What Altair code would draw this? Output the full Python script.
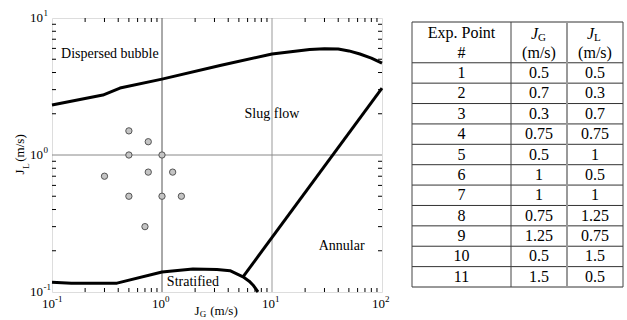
import altair as alt
import pandas as pd

# ---------------- data ----------------
exp_id = [1, 2, 3, 4, 5, 6, 7, 8, 9, 10, 11]
jg = [0.5, 0.7, 0.3, 0.75, 0.5, 1, 1, 0.75, 1.25, 0.5, 1.5]
jl = [0.5, 0.3, 0.7, 0.75, 1, 0.5, 1, 1.25, 0.75, 1.5, 0.5]

bubble_x = [0.1, 0.29, 0.415, 1.0, 3.37, 10, 22, 30, 40, 50, 63, 80, 100]
bubble_y = [2.32, 2.74, 3.08, 3.58, 4.5, 5.46, 5.9, 5.97, 5.94, 5.75, 5.46, 5.1, 4.69]

strat_x = [0.1, 0.15, 0.39, 1.0, 1.91, 3.16, 4.15, 5.45, 6.2, 6.71, 7.46]
strat_y = [0.118, 0.116, 0.116, 0.140, 0.147, 0.146, 0.143, 0.129, 0.12, 0.1125, 0.1]

annular_x = [5.45, 100]
annular_y = [0.129, 3.08]

region_left_text = ["Dispersed bubble"]
region_left_x = [0.121]
region_left_y = [5.46]
region_text = ["Slug flow", "Annular", "Stratified"]
region_x = [10, 43, 1.91]
region_y = [2.0, 0.217, 0.118]

x_major = [0.1, 1, 10, 100]
x_exp = ["-1", "0", "1", "2"]
y_major = [0.1, 1, 10]
y_exp = ["-1", "0", "1"]
x_minor = [m * 10.0 ** e for e in (-1, 0, 1) for m in range(2, 10)]
y_minor = [m * 10.0 ** e for e in (-1, 0) for m in range(2, 10)]

# table layout (column edges in table units, rows in row units)
col_edges = [0, 99, 155, 211]
row_edges = [0, 2, 3, 4, 5, 6, 7, 8, 9, 10, 11, 12, 13]

FONT = "Liberation Serif"
W, H = 330, 274

xs = alt.Scale(type="log", domain=[0.1, 100])
ys = alt.Scale(type="log", domain=[0.1, 10])

X = lambda f: alt.X(f, scale=xs, axis=None)
Y = lambda f: alt.Y(f, scale=ys, axis=None)

# ---------------- plot layers ----------------
gx1 = alt.Chart(pd.DataFrame({"x": [1]})).mark_rule(color="#555", strokeWidth=1).encode(x=X("x:Q"))
gx10 = alt.Chart(pd.DataFrame({"x": [10]})).mark_rule(color="#999", strokeWidth=1).encode(x=X("x:Q"))
gy1 = alt.Chart(pd.DataFrame({"y": [1]})).mark_rule(color="#888", strokeWidth=1).encode(y=Y("y:Q"))

xm = pd.DataFrame({"x": x_minor})
ym = pd.DataFrame({"y": y_minor})
tick_kw = dict(color="black", strokeWidth=1)
t_bot = alt.Chart(xm).mark_rule(**tick_kw).encode(x=X("x:Q"), y=alt.value(H), y2=alt.value(H - 4))
t_top = alt.Chart(xm).mark_rule(**tick_kw).encode(x=X("x:Q"), y=alt.value(0), y2=alt.value(4))
t_left = alt.Chart(ym).mark_rule(**tick_kw).encode(y=Y("y:Q"), x=alt.value(0), x2=alt.value(4))
t_right = alt.Chart(ym).mark_rule(**tick_kw).encode(y=Y("y:Q"), x=alt.value(W), x2=alt.value(W - 4))

# tick labels: "10" with a superscript exponent
xl_df = pd.DataFrame({"x": x_major, "e": x_exp})
yl_df = pd.DataFrame({"y": y_major, "e": y_exp})
xl_base = alt.Chart(xl_df).mark_text(
    text="10", font=FONT, fontSize=13, align="right", baseline="middle", dx=3, color="black"
).encode(x=X("x:Q"), y=alt.value(H + 12))
xl_exp = alt.Chart(xl_df).mark_text(
    font=FONT, fontSize=9, align="left", baseline="middle", dx=3, dy=-5, color="black"
).encode(x=X("x:Q"), y=alt.value(H + 12), text="e:N")
yl_base = alt.Chart(yl_df).mark_text(
    text="10", font=FONT, fontSize=13, align="right", baseline="middle", color="black"
).encode(y=Y("y:Q"), x=alt.value(-9))
yl_exp = alt.Chart(yl_df).mark_text(
    font=FONT, fontSize=9, align="left", baseline="middle", dy=-5, color="black"
).encode(y=Y("y:Q"), x=alt.value(-8.5), text="e:N")

lines_df = pd.concat([
    pd.DataFrame({"series": "bubble", "i": range(len(bubble_x)), "x": bubble_x, "y": bubble_y}),
    pd.DataFrame({"series": "stratified", "i": range(len(strat_x)), "x": strat_x, "y": strat_y}),
    pd.DataFrame({"series": "annular", "i": range(len(annular_x)), "x": annular_x, "y": annular_y}),
])
lines = alt.Chart(lines_df).mark_line(color="black", strokeWidth=3, strokeJoin="round").encode(
    x=X("x:Q"), y=Y("y:Q"), detail="series:N", order="i:Q",
)

pts = alt.Chart(pd.DataFrame({"id": exp_id, "jg": jg, "jl": jl})).mark_point(
    filled=True, shape="circle", size=40, fill="#c4c4c4", stroke="#555", strokeWidth=1, opacity=1
).encode(x=X("jg:Q"), y=Y("jl:Q"))

lab_left = alt.Chart(pd.DataFrame({"t": region_left_text, "x": region_left_x, "y": region_left_y})).mark_text(
    font=FONT, fontSize=14, align="left", baseline="middle", color="black"
).encode(x=X("x:Q"), y=Y("y:Q"), text="t:N")
lab_c = alt.Chart(pd.DataFrame({"t": region_text, "x": region_x, "y": region_y})).mark_text(
    font=FONT, fontSize=14, align="center", baseline="middle", color="black"
).encode(x=X("x:Q"), y=Y("y:Q"), text="t:N")

one = pd.DataFrame({"a": [0]})
def txt(s, x, y, size=13, angle=0, align="center"):
    return alt.Chart(one).mark_text(
        text=s, font=FONT, fontSize=size, angle=angle, align=align, baseline="middle", color="black"
    ).encode(x=alt.value(x), y=alt.value(y))

xt_J = txt("J", 145, 293)
xt_G = txt("G", 151, 296, size=9)
xt_u = txt("(m/s)", 172, 293)
yt_J = txt("J", -32, 154, angle=270)
yt_L = txt("L", -26, 148, size=9, angle=270)
yt_u = txt("(m/s)", -32, 130, angle=270)

plot = alt.layer(gx1, gx10, gy1, t_bot, t_top, t_left, t_right, lines, pts,
                 lab_left, lab_c, xl_base, xl_exp, yl_base, yl_exp,
                 xt_J, xt_G, xt_u, yt_J, yt_L, yt_u)

# ---------------- table ----------------
tx = alt.Scale(domain=[col_edges[0], col_edges[-1]], range=[360, 571], nice=False, zero=False)
ty = alt.Scale(domain=[row_edges[0], row_edges[-1]], range=[4, 269], nice=False, zero=False)

h_df = pd.DataFrame({"y": row_edges, "x0": col_edges[0], "x1": col_edges[-1]})
v_df = pd.DataFrame({"x": [col_edges[0], col_edges[1], col_edges[3]], "y0": row_edges[0], "y1": row_edges[-1]})
vm_df = pd.DataFrame({"x": [col_edges[2]], "y0": row_edges[0], "y1": row_edges[-1]})

h_rules = alt.Chart(h_df).mark_rule(color="#333", strokeWidth=1).encode(
    x=alt.X("x0:Q", scale=tx, axis=None), x2="x1:Q", y=alt.Y("y:Q", scale=ty, axis=None))
v_rules = alt.Chart(v_df).mark_rule(color="#444", strokeWidth=1).encode(
    x=alt.X("x:Q", scale=tx, axis=None), y=alt.Y("y0:Q", scale=ty, axis=None), y2="y1:Q")
vm_rule = alt.Chart(vm_df).mark_rule(color="#999", strokeWidth=2).encode(
    x=alt.X("x:Q", scale=tx, axis=None), y=alt.Y("y0:Q", scale=ty, axis=None), y2="y1:Q")

centers = [(col_edges[k] + col_edges[k + 1]) / 2 for k in range(3)]
cells = []
for r, (e, g, l) in enumerate(zip(exp_id, jg, jl)):
    yc = row_edges[r + 1] + 0.5
    cells.append({"x": centers[0], "y": yc, "t": str(e)})
    cells.append({"x": centers[1], "y": yc, "t": f"{g:g}"})
    cells.append({"x": centers[2], "y": yc, "t": f"{l:g}"})
cells.append({"x": centers[0], "y": 0.55, "t": "Exp. Point"})
cells.append({"x": centers[0], "y": 1.5, "t": "#"})
cells.append({"x": centers[1], "y": 1.5, "t": "(m/s)"})
cells.append({"x": centers[2], "y": 1.5, "t": "(m/s)"})
cell_txt = alt.Chart(pd.DataFrame(cells)).mark_text(
    font=FONT, fontSize=16, align="center", baseline="middle", color="black"
).encode(x=alt.X("x:Q", scale=tx, axis=None), y=alt.Y("y:Q", scale=ty, axis=None), text="t:N")

hdr_J = alt.Chart(pd.DataFrame({"x": centers[1:], "y": [0.6, 0.6]})).mark_text(
    text="J", font=FONT, fontSize=16, fontStyle="italic", align="right", baseline="middle", dx=-1, color="black"
).encode(x=alt.X("x:Q", scale=tx, axis=None), y=alt.Y("y:Q", scale=ty, axis=None))
hdr_sub = alt.Chart(pd.DataFrame({"x": centers[1:], "y": [0.6, 0.6], "t": ["G", "L"]})).mark_text(
    font=FONT, fontSize=11, align="left", baseline="middle", dx=-1, dy=4, color="black"
).encode(x=alt.X("x:Q", scale=tx, axis=None), y=alt.Y("y:Q", scale=ty, axis=None), text="t:N")

table = alt.layer(h_rules, v_rules, vm_rule, cell_txt, hdr_J, hdr_sub)

chart = alt.layer(plot, table).resolve_scale(x="independent", y="independent").properties(
    width=W, height=H,
    autosize=alt.AutoSizeParams(type="none"),
    padding={"left": 52, "top": 18, "right": 245, "bottom": 28},
).configure_view(stroke="black", strokeWidth=1.5).configure(font=FONT, background="white")

chart.save("out.html", embed_options={"renderer": "svg", "actions": False})
